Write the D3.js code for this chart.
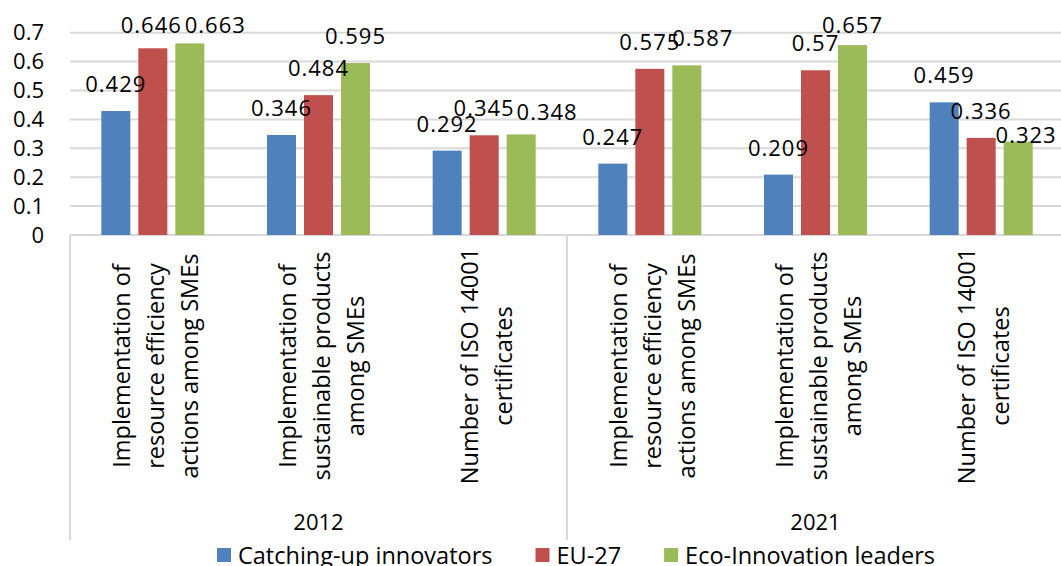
<!DOCTYPE html>
<html>
<head>
<meta charset="utf-8">
<script src="https://cdn.jsdelivr.net/npm/d3@7/dist/d3.min.js"></script>
<style>
  body { margin: 0; background: #fff; }
  svg { display: block; font-family: "Open Sans", sans-serif; }
</style>
</head>
<body>
<div id="chart"></div>
<script>
var width = 1061;
var height = 566;

// data
var categories = [
  ["Implementation of", "resource efficiency", "actions among SMEs"],
  ["Implementation of", "sustainable products", "among SMEs"],
  ["Number of ISO 14001", "certificates"],
  ["Implementation of", "resource efficiency", "actions among SMEs"],
  ["Implementation of", "sustainable products", "among SMEs"],
  ["Number of ISO 14001", "certificates"]
];
var years = ["2012", "2021"];
var seriesNames = ["Catching-up innovators", "EU-27", "Eco-Innovation leaders"];
var catchingUp = [0.429, 0.346, 0.292, 0.247, 0.209, 0.459];
var eu27 = [0.646, 0.484, 0.345, 0.575, 0.57, 0.336];
var ecoLeaders = [0.663, 0.595, 0.348, 0.587, 0.657, 0.323];
var yTicks = [0, 0.1, 0.2, 0.3, 0.4, 0.5, 0.6, 0.7];

var colors = ["#4f81bd", "#c0504d", "#9bbb59"];
var seriesValues = [catchingUp, eu27, ecoLeaders];

// labels that were dragged by hand in the original
var labelNudge = {
  "1-0": [-1.5, 0], "2-0": [25.5, 0],
  "2-2": [26, 5], "2-3": [16, 0], "2-5": [8, 20]
};

var plotLeft = 70, plotRight = 1064, plotBottom = 235, plotTop = 32.7;

var svg = d3.select("#chart").append("svg")
    .attr("width", width)
    .attr("height", height);

var x0 = d3.scaleBand()
    .domain(d3.range(categories.length))
    .range([plotLeft, plotRight]);

var bw = x0.bandwidth();
var x1 = d3.scaleBand()
    .domain(d3.range(seriesNames.length))
    .range([bw / 2 - 51.5, bw / 2 + 51.5])
    .paddingInner(8 / 37);

var y = d3.scaleLinear()
    .domain([0, 0.7])
    .range([plotBottom, plotTop]);

// grid
svg.append("g").selectAll("line")
    .data(yTicks)
    .enter().append("line")
    .attr("x1", plotLeft)
    .attr("x2", width)
    .attr("y1", function (d) { return y(d); })
    .attr("y2", function (d) { return y(d); })
    .attr("stroke", "#d9d9d9")
    .attr("stroke-width", 2);

// y tick labels
svg.append("g").selectAll("text")
    .data(yTicks)
    .enter().append("text")
    .attr("x", 44)
    .attr("y", function (d) { return y(d); })
    .attr("dy", "0.35em")
    .attr("text-anchor", "end")
    .attr("font-size", 22)
    .attr("fill", "#000")
    .text(function (d) { return d === 0 ? "0" : d3.format(".1f")(d); });

// category axis group lines
var groupEdges = [plotLeft, x0(3), plotRight];
svg.append("g").selectAll("line")
    .data(groupEdges)
    .enter().append("line")
    .attr("x1", function (d) { return d; })
    .attr("x2", function (d) { return d; })
    .attr("y1", plotBottom)
    .attr("y2", 540)
    .attr("stroke", "#d9d9d9")
    .attr("stroke-width", 2);

// bars
var groups = svg.append("g").selectAll("g")
    .data(categories)
    .enter().append("g")
    .attr("transform", function (d, i) { return "translate(" + x0(i) + ",0)"; });

groups.selectAll("rect")
    .data(function (d, i) {
      return seriesValues.map(function (vals, s) { return {s: s, i: i, v: vals[i]}; });
    })
    .enter().append("rect")
    .attr("x", function (d) { return x1(d.s); })
    .attr("width", x1.bandwidth())
    .attr("y", function (d) { return y(d.v); })
    .attr("height", function (d) { return plotBottom - y(d.v); })
    .attr("fill", function (d) { return colors[d.s]; });

// data labels
groups.selectAll("text.val")
    .data(function (d, i) {
      return seriesValues.map(function (vals, s) { return {s: s, i: i, v: vals[i]}; });
    })
    .enter().append("text")
    .attr("class", "val")
    .attr("x", function (d) {
      var n = labelNudge[d.s + "-" + d.i];
      return x1(d.s) + x1.bandwidth() / 2 + (n ? n[0] : 0);
    })
    .attr("y", function (d) {
      var n = labelNudge[d.s + "-" + d.i];
      return Math.max(y(d.v) - 19, 33) + (n ? n[1] : 0);
    })
    .attr("text-anchor", "middle")
    .attr("font-size", 22)
    .attr("letter-spacing", 1)
    .attr("fill", "#000")
    .text(function (d) { return String(d.v); });

// category labels (rotated)
groups.each(function (lines) {
  var g = d3.select(this);
  var n = lines.length;
  lines.forEach(function (line, k) {
    var cx = bw / 2 + 3 + (k - (n - 1) / 2) * 34;
    g.append("text")
      .attr("transform", "translate(" + cx + ",366) rotate(-90)")
      .attr("text-anchor", "middle")
      .attr("dy", "0.35em")
      .attr("font-size", 23.5)
      .attr("fill", "#000")
      .text(line);
  });
});

// year labels
svg.append("g").selectAll("text")
    .data(years)
    .enter().append("text")
    .attr("x", function (d, i) { return (groupEdges[i] + groupEdges[i + 1]) / 2; })
    .attr("y", 530)
    .attr("text-anchor", "middle")
    .attr("font-size", 22)
    .attr("fill", "#000")
    .text(function (d) { return d; });

// legend
var legend = svg.append("g");
var items = legend.selectAll("g")
    .data(seriesNames)
    .enter().append("g");
items.append("rect")
    .attr("width", 14)
    .attr("height", 14)
    .attr("y", 548)
    .attr("fill", function (d, i) { return colors[i]; });
items.append("text")
    .attr("x", 21)
    .attr("y", 564)
    .attr("font-size", 23.5)
    .attr("fill", "#000")
    .text(function (d) { return d; });

var pos = 0;
var widths = [];
items.each(function () {
  widths.push(21 + d3.select(this).select("text").node().getComputedTextLength());
});
var total = d3.sum(widths) + 43 * (widths.length - 1);
var start = 576 - total / 2;
items.attr("transform", function (d, i) {
  var xx = start + pos;
  pos += widths[i] + 43;
  return "translate(" + xx + ",0)";
});
</script>
</body>
</html>
